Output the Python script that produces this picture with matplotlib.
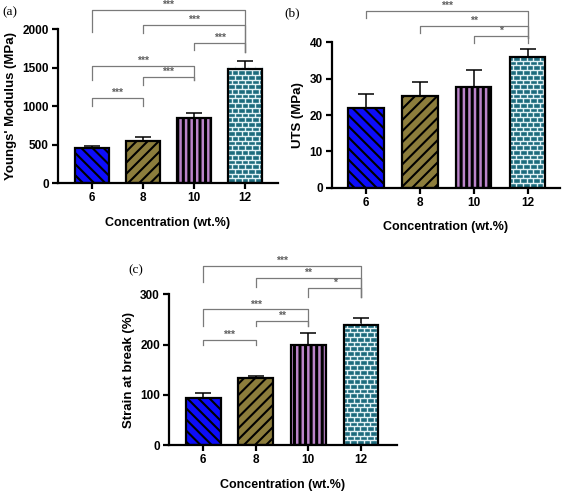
import matplotlib

matplotlib.use("Agg")

import numpy as np
from matplotlib import pyplot as plt
from matplotlib.collections import LineCollection

plt.rcParams["font.family"] = ["Liberation Sans", "DejaVu Sans"]
plt.rcParams["font.weight"] = "bold"

CONCENTRATIONS = ["6", "8", "10", "12"]

YOUNGS_MEAN = [450, 545, 848, 1485]
YOUNGS_ERR = [25, 55, 55, 100]
UTS_MEAN = [21.8, 25.3, 27.8, 35.9]
UTS_ERR = [4.0, 3.7, 4.7, 2.2]
STRAIN_MEAN = [93, 134, 200, 238]
STRAIN_ERR = [11, 4, 22, 14]

# brackets: (left bar, right bar, top, left leg bottom, right leg bottom, stars)
YOUNGS_BRACKETS = [
    (0, 1, 1100, 1000, 1000, "***"),
    (1, 2, 1380, 1273, 1338, "***"),
    (0, 2, 1524, 1338, 1338, "***"),
    (2, 3, 1822, 1727, 1705, "***"),
    (1, 3, 2048, 1952, 1705, "***"),
    (0, 3, 2247, 1965, 1705, "***"),
]
UTS_BRACKETS = [
    (2, 3, 41.7, 39.7, 39.7, "*"),
    (1, 3, 44.6, 42.5, 41.2, "**"),
    (0, 3, 48.6, 46.6, 41.2, "***"),
]
STRAIN_BRACKETS = [
    (0, 1, 209, 200, 200, "***"),
    (1, 2, 247, 237, 237, "**"),
    (0, 2, 270, 237, 237, "***"),
    (2, 3, 313, 295, 295, "*"),
    (1, 3, 332, 315, 295, "**"),
    (0, 3, 356, 324, 295, "***"),
]

BAR_STYLES = [
    {"face": "#0d0dfa", "hatch": "\\\\\\", "hatch_color": "black", "hatch_lw": 1.5},
    {"face": "#8c7d3c", "hatch": "///", "hatch_color": "black", "hatch_lw": 1.5},
    {"face": "black", "hatch": "|||", "hatch_color": "#bb84ca", "hatch_lw": 1.8},
    {"face": "#1d6b7d", "hatch": None, "hatch_color": "#e2f2f5", "hatch_lw": 1.0},
]
BAR_WIDTH = 0.66


def add_bricks(axis, x0, x1, height, color, line_width, clip_patch):
    bbox = axis.get_window_extent()
    y_min, y_max = axis.get_ylim()
    x_min, x_max = axis.get_xlim()
    row = 4.7 * (y_max - y_min) / bbox.height
    brick = 6.7 * (x_max - x_min) / bbox.width
    segments = []
    y = 0.0
    row_index = 0
    while y < height:
        segments.append([(x0, y), (x1, y)])
        x = x0 + (0.0 if row_index % 2 == 0 else brick / 2)
        while x < x1:
            segments.append([(x, y), (x, y + row)])
            x += brick
        y += row
        row_index += 1
    lines = LineCollection(segments, colors=color, linewidths=line_width, zorder=2.5)
    lines.set_clip_path(clip_patch)
    axis.add_collection(lines)


def draw_panel(figure, position, means, errors, brackets, y_max, y_step, ylabel, tag, tag_xy, xlim):
    axis = figure.add_axes(position)
    x_positions = np.arange(len(means))
    axis.set_xlim(*xlim)
    axis.set_ylim(0, y_max)

    for x, mean, style in zip(x_positions, means, BAR_STYLES):
        with plt.rc_context({"hatch.linewidth": style["hatch_lw"]}):
            fill = axis.bar(
                x, mean, width=BAR_WIDTH, color=style["face"], edgecolor=style["hatch_color"],
                hatch=style["hatch"], linewidth=0, zorder=2,
            )[0]
        if style["hatch"] is None:
            add_bricks(axis, x - BAR_WIDTH / 2, x + BAR_WIDTH / 2, mean, style["hatch_color"], style["hatch_lw"], fill)
        axis.bar(x, mean, width=BAR_WIDTH, facecolor="none", edgecolor="black", linewidth=1.6, zorder=3)

    axis.errorbar(
        x_positions, means, yerr=[np.zeros(len(errors)), errors], fmt="none",
        ecolor="black", elinewidth=1.1, capsize=6, capthick=1.1, zorder=1,
    )

    for left, right, top, left_bottom, right_bottom, stars in brackets:
        axis.plot(
            [x_positions[left], x_positions[left], x_positions[right], x_positions[right]],
            [left_bottom, top, top, right_bottom],
            color="#7a7a7a", linewidth=0.9, clip_on=False, zorder=1,
        )
        axis.text(
            (x_positions[left] + x_positions[right]) / 2, top, stars, ha="center", va="bottom",
            fontsize=7.5, color="#606060", clip_on=False,
        )

    axis.spines["top"].set_visible(False)
    axis.spines["right"].set_visible(False)
    axis.spines["left"].set_linewidth(1.6)
    axis.spines["bottom"].set_linewidth(1.6)
    axis.set_yticks(np.arange(0, y_max + y_step / 2, y_step))
    axis.set_xticks(x_positions)
    axis.set_xticklabels(CONCENTRATIONS)
    axis.tick_params(axis="both", direction="out", length=4.5, width=1.6, labelsize=8.5, pad=2)
    for label in axis.get_xticklabels() + axis.get_yticklabels():
        label.set_fontweight("bold")
    axis.set_ylabel(ylabel, fontsize=9.5, fontweight="bold", labelpad=4)
    axis.set_xlabel("Concentration (wt.%)", fontsize=9, fontweight="bold", labelpad=9)
    figure.text(tag_xy[0], tag_xy[1], tag, fontsize=9.5, family="Liberation Serif", fontweight="normal", va="center")
    return axis


figure = plt.figure(figsize=(5.67, 4.92), dpi=100)
draw_panel(
    figure, [0.1023, 0.628, 0.388, 0.313], YOUNGS_MEAN, YOUNGS_ERR, YOUNGS_BRACKETS,
    2000, 500, "Youngs' Modulus (MPa)", "(a)", (0.004, 0.976), (-0.66, 3.64),
)
draw_panel(
    figure, [0.5855, 0.6185, 0.402, 0.2955], UTS_MEAN, UTS_ERR, UTS_BRACKETS,
    40, 10, "UTS (MPa)", "(b)", (0.502, 0.974), (-0.63, 3.6),
)
draw_panel(
    figure, [0.298, 0.0955, 0.4016, 0.3063], STRAIN_MEAN, STRAIN_ERR, STRAIN_BRACKETS,
    300, 100, "Strain at break (%)", "(c)", (0.226, 0.451), (-0.65, 3.68),
)
figure.savefig("out.png", dpi=100)
